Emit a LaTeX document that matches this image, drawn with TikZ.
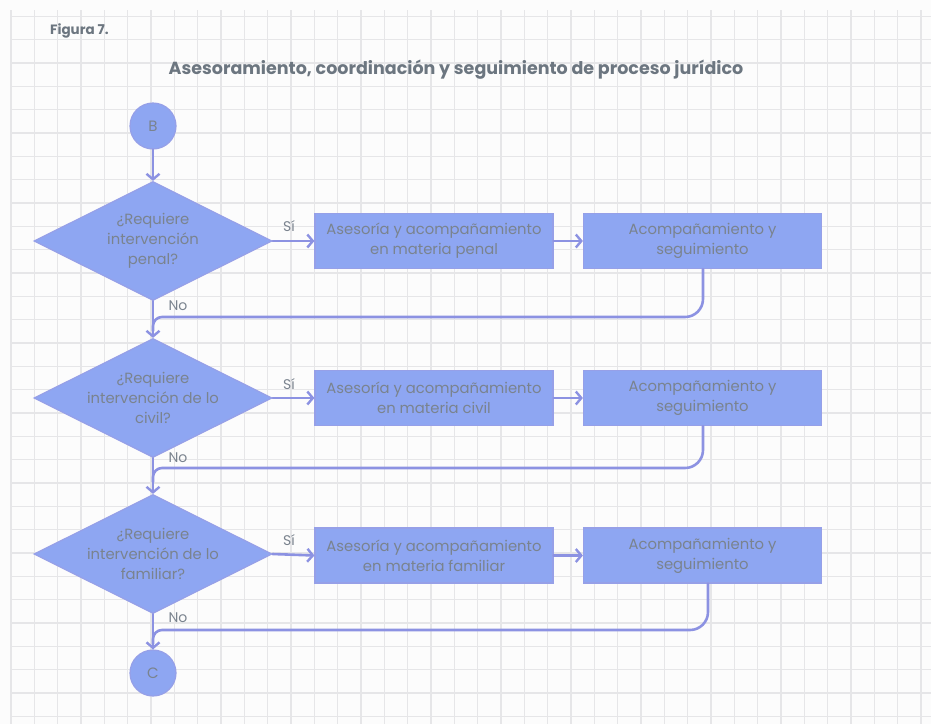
\documentclass[tikz,border=0pt]{standalone}
\usepackage{fontspec}
\setmainfont{Poppins}
\usetikzlibrary{arrows.meta,shapes.geometric}
\definecolor{gridgray}{RGB}{230,230,232}
\definecolor{shapefill}{RGB}{142,166,242}
\definecolor{shapeedge}{RGB}{150,160,232}
\definecolor{linkcol}{RGB}{140,146,226}
\definecolor{labelgray}{RGB}{122,131,142}
\definecolor{titlegray}{RGB}{108,118,128}
\tikzset{
  gridline/.style={draw=gridgray, line width=1.4pt},
  flowbox/.style={rectangle, fill=shapefill, draw=shapeedge, line width=1.2pt,
    minimum width=238pt, minimum height=55pt, inner sep=0pt,
    align=center, text=labelgray, font=\fontsize{14.8}{20}\selectfont},
  question/.style={diamond, fill=shapefill, draw=shapeedge, line width=1.2pt,
    minimum width=238pt, minimum height=119pt, inner sep=0pt, aspect=2,
    align=center, text=labelgray, font=\fontsize{14.8}{20}\selectfont},
  connector/.style={circle, fill=shapefill, draw=shapeedge, line width=1.2pt,
    minimum size=46pt, inner sep=0pt, text=labelgray,
    font=\fontsize{15}{16}\selectfont},
  link/.style={draw=linkcol, line width=2.6pt, line cap=round, line join=round},
  tip/.style={-{Straight Barb[length=5.5pt,width=13pt,line width=2.4pt]}},
  answer/.style={text=labelgray, font=\fontsize{14}{15}\selectfont, inner sep=0pt},
}
\begin{document}
\begin{tikzpicture}[x=1pt,y=-1pt]
\useasboundingbox (0,0) rectangle (931,724);
\fill[white!99!black] (0,0) rectangle (931,724);
% squared paper
\foreach \i in {0,...,39} \draw[gridline] ({11+23.33*\i},10) -- ({11+23.33*\i},724);
\foreach \j in {0,...,30} \draw[gridline] (11,{16.3+23.33*\j}) -- (931,{16.3+23.33*\j});

% headings
\node[anchor=west, text=titlegray, font=\fontsize{13.5}{15}\selectfont\bfseries, inner sep=0pt]
  (fig) at (50,31) {Figura 7.};
\node[text=titlegray, font=\fontsize{17.5}{20}\selectfont\bfseries, inner sep=0pt]
  (title) at (456,70) {Asesoramiento, coordinación y seguimiento de proceso jurídico};

% terminals
\node[connector] (B) at (153,126) {B};
\node[connector] (C) at (153,673) {C};

% decisions
\node[question] (d1) at (153,241) {¿Requiere\\intervención\\penal?};
\node[question] (d2) at (153,398) {¿Requiere\\intervención de lo\\civil?};
\node[question] (d3) at (153,554) {¿Requiere\\intervención de lo\\familiar?};

% actions
\node[flowbox] (a1) at (434,241) {Asesoría y acompañamiento\\en materia penal};
\node[flowbox] (f1) at (702.5,241) {Acompañamiento y\\seguimiento};
\node[flowbox] (a2) at (434,398) {Asesoría y acompañamiento\\en materia civil};
\node[flowbox] (f2) at (702.5,398) {Acompañamiento y\\seguimiento};
\node[flowbox] (a3) at (434,555.5) {Asesoría y acompañamiento\\en materia familiar};
\node[flowbox] (f3) at (702.5,555.5) {Acompañamiento y\\seguimiento};

% joins on the main line
\coordinate (j1) at (153,317);
\coordinate (j2) at (153,468);
\coordinate (j3) at (153,630);
\coordinate (r1) at (703,317);
\coordinate (r2) at (703,468);
\coordinate (r3) at (708,630);

% main flow
\draw[link,tip] (B) -- (d1.north);
\draw[link,tip] (d1.south) -- (d2.north);
\draw[link,tip] (d2.south) -- (d3.north);
\draw[link,tip] (d3.south) -- (C.north);

% yes branches
\draw[link,tip] (d1.east) -- (a1.west);
\draw[link,tip] (a1.east) -- (f1.west);
\draw[link,tip] (d2.east) -- (a2.west);
\draw[link,tip] (a2.east) -- (f2.west);
\draw[link,tip] (d3.east) -- (a3.west);
\draw[link,tip] (a3.east) -- (f3.west);

% returns to the main line
\draw[link, rounded corners=18pt] (f1.south -| r1) -- (r1) [rounded corners=9pt] -- (j1) -- ++(0,14);
\draw[link, rounded corners=18pt] (f2.south -| r2) -- (r2) [rounded corners=9pt] -- (j2) -- ++(0,14);
\draw[link, rounded corners=18pt] (f3.south -| r3) -- (r3) [rounded corners=9pt] -- (j3) -- ++(0,14);

% answers
\node[answer] (s1) at (289,226) {Sí};
\node[answer] (s2) at (289,384) {Sí};
\node[answer] (s3) at (289,540) {Sí};
\node[answer] (n1) at (178,306) {No};
\node[answer] (n2) at (178,458) {No};
\node[answer] (n3) at (178,618) {No};
\end{tikzpicture}
\end{document}
